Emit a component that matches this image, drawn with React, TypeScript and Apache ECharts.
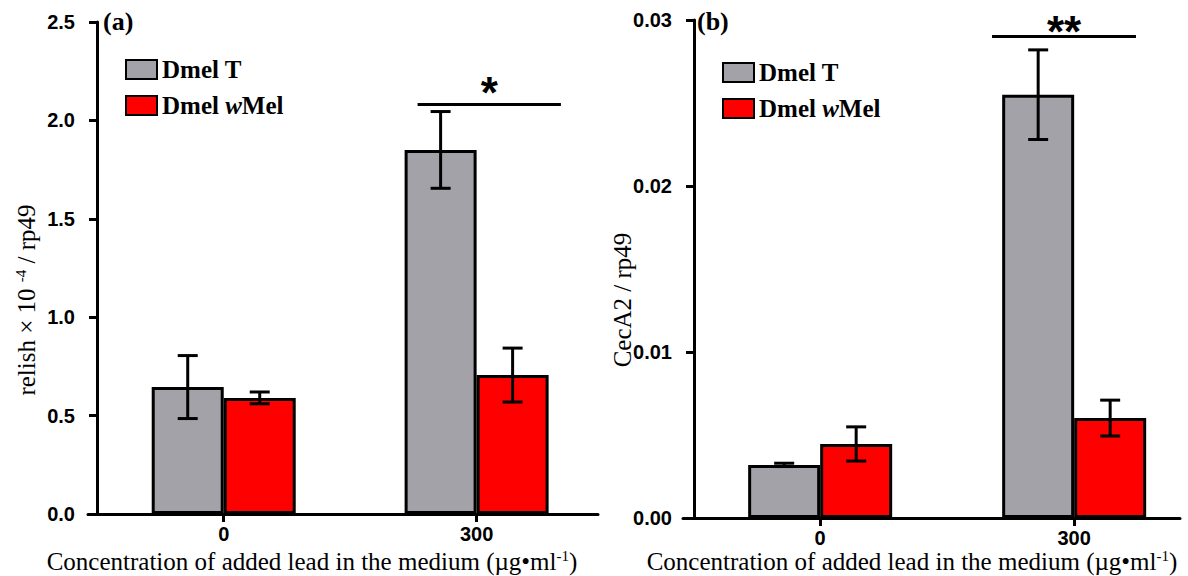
import React, { useEffect, useRef } from "react";
import * as echarts from "echarts";

// ---- data ----
const doses = [0, 300];
const xTickLabels = ["0", "300"];
const relishT = [0.645, 1.85];
const relishTErr = [0.16, 0.195];
const relishW = [0.59, 0.706];
const relishWErr = [0.03, 0.137];
const cecT = [0.0032, 0.0255];
const cecTErr = [0.0001, 0.0027];
const cecW = [0.00446, 0.00602];
const cecWErr = [0.00103, 0.00108];
const sigA = { from: 230, to: 400, y: 2.08, text: "*" };
const sigB = { from: 203, to: 373, y: 0.029, text: "**" };
const seriesNames = ["Dmel T", "Dmel wMel"];

const GRAY = "#a2a2a8";
const RED = "#ff0000";
const BAR_W = 72;

function bars(vals: number[]) {
  return doses.map((d, i) => [d, vals[i]]);
}
function errs(vals: number[], e: number[]) {
  return doses.map((d, i) => [d, vals[i] - e[i], vals[i] + e[i]]);
}

function errSeries(idx: number, data: number[][], offset: number, sig?: any, starDist?: number) {
  const s: any = {
    type: "custom",
    xAxisIndex: idx,
    yAxisIndex: idx,
    z: 5,
    silent: true,
    encode: { x: 0, y: [1, 2] },
    data,
    renderItem: (params: any, api: any) => {
      const x = api.value(0);
      const lo = api.coord([x, api.value(1)]);
      const hi = api.coord([x, api.value(2)]);
      const cx = lo[0] + offset;
      const half = 10;
      const st = { stroke: "#000", lineWidth: 3 };
      return {
        type: "group",
        children: [
          { type: "line", shape: { x1: cx, y1: lo[1], x2: cx, y2: hi[1] }, style: st },
          { type: "line", shape: { x1: cx - half, y1: lo[1], x2: cx + half, y2: lo[1] }, style: st },
          { type: "line", shape: { x1: cx - half, y1: hi[1], x2: cx + half, y2: hi[1] }, style: st },
        ],
      };
    },
  };
  if (sig) {
    s.markLine = {
      silent: true,
      symbol: "none",
      lineStyle: { color: "#000", width: 3, type: "solid" },
      label: {
        show: true,
        position: "insideMiddleTop",
        formatter: sig.text,
        color: "#000",
        fontSize: 44,
        fontWeight: "bold",
        fontFamily: "Liberation Sans",
        distance: starDist,
      },
      data: [[{ coord: [sig.from, sig.y] }, { coord: [sig.to, sig.y] }]],
    };
  }
  return s;
}

function barSeries(idx: number, name: string, vals: number[], color: string) {
  return {
    type: "bar",
    name,
    xAxisIndex: idx,
    yAxisIndex: idx,
    barWidth: BAR_W,
    barGap: "0%",
    data: bars(vals),
    itemStyle: { color, borderColor: "#000", borderWidth: 3 },
  };
}

const tickFont = { fontFamily: "Liberation Sans", fontWeight: "bold" as const, fontSize: 20, color: "#000" };

function xAxis(idx: number, min: number, max: number) {
  return {
    type: "value",
    gridIndex: idx,
    min,
    max,
    axisLine: { show: true, onZero: false, lineStyle: { color: "#000", width: 3 } },
    axisTick: { show: true, customValues: doses, length: 8, lineStyle: { color: "#000", width: 3 } },
    axisLabel: {
      show: true,
      customValues: doses,
      margin: 10,
      lineHeight: 20,
      formatter: (v: number) => xTickLabels[doses.indexOf(v)] ?? "",
      ...tickFont,
    },
    splitLine: { show: false },
  };
}

function yAxis(idx: number, max: number, interval: number, digits: number, offset: number) {
  return {
    type: "value",
    gridIndex: idx,
    min: 0,
    max,
    interval,
    offset,
    axisLine: { show: true, onZero: false, lineStyle: { color: "#000", width: 3 } },
    axisTick: { show: true, length: 8, lineStyle: { color: "#000", width: 3 } },
    axisLabel: { margin: 22, formatter: (v: number) => v.toFixed(digits), ...tickFont },
    splitLine: { show: false },
  };
}

function legend(left: number, top: number) {
  return {
    left,
    top,
    orient: "vertical",
    itemWidth: 31,
    itemHeight: 19,
    itemGap: 11,
    icon: "rect",
    data: seriesNames,
    formatter: (n: string) => (n === "Dmel wMel" ? "Dmel {i|w}Mel" : n),
    textStyle: {
      fontFamily: "Liberation Serif",
      fontWeight: "bold",
      fontSize: 25,
      lineHeight: 20,
      color: "#000",
      rich: {
        i: {
          fontFamily: "Liberation Serif",
          fontWeight: "bold",
          fontStyle: "italic",
          fontSize: 25,
          lineHeight: 20,
          color: "#000",
        },
      },
    },
    selectedMode: false,
  };
}

const serifText = { fontFamily: "Liberation Serif", fontSize: 25, fill: "#000" };
const xName = "{n|Concentration of added lead in the medium (µg•ml}{s|-1}{n|)}";
const nameRich = {
  n: { fontFamily: "Liberation Serif", fontSize: 25, lineHeight: 26, color: "#000" },
  s: { fontFamily: "Liberation Serif", fontSize: 15, lineHeight: 16, color: "#000", padding: [0, 0, 10, 0] },
};

export default function App() {
  const ref = useRef<HTMLDivElement>(null);
  useEffect(() => {
    const chart = echarts.init(ref.current!, undefined, { renderer: "svg" });
    chart.setOption({
      animation: false,
      backgroundColor: "#fff",
      grid: [
        { left: 88, top: 22, width: 510, height: 492 },
        { left: 683, top: 20, width: 497, height: 498 },
      ],
      xAxis: [xAxis(0, -161, 444), xAxis(1, -162, 425)],
      yAxis: [yAxis(0, 2.5, 0.5, 1, -9), yAxis(1, 0.03, 0.01, 2, -11)],
      legend: [legend(120, 52), legend(717, 55)],
      series: [
        barSeries(0, seriesNames[0], relishT, GRAY),
        barSeries(0, seriesNames[1], relishW, RED),
        errSeries(0, errs(relishT, relishTErr), -BAR_W / 2, sigA, -10),
        errSeries(0, errs(relishW, relishWErr), BAR_W / 2),
        barSeries(1, seriesNames[0], cecT, GRAY),
        barSeries(1, seriesNames[1], cecW, RED),
        errSeries(1, errs(cecT, cecTErr), -BAR_W / 2, sigB, -17),
        errSeries(1, errs(cecW, cecWErr), BAR_W / 2),
      ],
      graphic: [
        { type: "text", left: 103, top: 8, style: { text: "(a)", ...serifText, fontSize: 26, fontWeight: "bold" } },
        { type: "text", left: 697, top: 8, style: { text: "(b)", ...serifText, fontSize: 26, fontWeight: "bold" } },
        {
          type: "text",
          x: 312,
          y: 561,
          style: { text: xName, rich: nameRich, align: "center", verticalAlign: "middle" },
        },
        {
          type: "text",
          x: 912,
          y: 561,
          style: { text: xName, rich: nameRich, align: "center", verticalAlign: "middle" },
        },
        {
          type: "text",
          x: 26,
          y: 300,
          rotation: Math.PI / 2,
          style: {
            text: "{n|relish × 10 }{s|-4}{n| / rp49}",
            rich: nameRich,
            align: "center",
            verticalAlign: "middle",
          },
        },
        {
          type: "text",
          x: 622,
          y: 300,
          rotation: Math.PI / 2,
          style: { text: "CecA2 / rp49", ...serifText, align: "center", verticalAlign: "middle" },
        },
      ],
    });
    return () => chart.dispose();
  }, []);
  return <div ref={ref} style={{ position: "fixed", left: 0, top: 0, width: 1188, height: 576 }} />;
}
